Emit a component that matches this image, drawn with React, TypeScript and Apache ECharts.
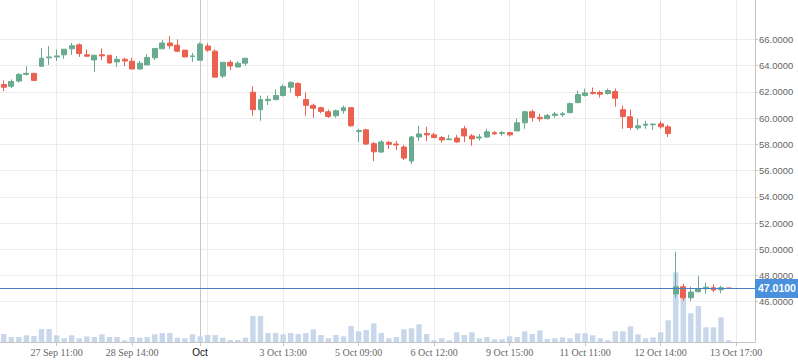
import React, { useEffect, useRef } from 'react';
import * as echarts from 'echarts';

// Hourly candles, slot index 0..96 (slots 97..99 are empty future slots)
const open = [
  62.56, 62.43, 62.82, 63.33, 63.41, 63.95, 64.59, 64.66, 64.82, 65.28,
  65.58, 64.82, 64.43, 64.82, 64.79, 64.28, 64.48, 64.33, 63.74, 64.05,
  64.59, 65.28, 65.72, 65.56, 65.18, 64.69, 64.41, 65.49, 65.10, 63.20,
  64.25, 63.89, 64.18, 61.97, 60.64, 61.33, 61.41, 61.72, 62.35, 62.64,
  61.41, 60.97, 60.79, 60.48, 60.18, 60.56, 60.79, 58.97, 59.10, 58.05,
  57.41, 58.15, 58.02, 57.79, 56.72, 58.56, 58.82, 58.72, 58.51, 58.35,
  58.48, 59.18, 58.64, 58.48, 58.56, 58.89, 58.82, 58.89, 59.02, 59.64,
  60.48, 60.05, 59.95, 60.20, 60.25, 60.41, 61.18, 61.72, 61.95, 61.95,
  61.87, 62.02, 60.64, 60.10, 59.25, 59.46, 59.49, 59.56, 59.33, 46.59,
  47.14, 46.30, 46.76, 46.99, 47.07, 46.91, 47.05,
];
const high = [
  62.87, 62.95, 63.43, 63.95, 63.41, 65.33, 65.49, 65.23, 65.25, 65.72,
  65.69, 65.23, 64.79, 65.31, 64.79, 64.72, 64.61, 64.61, 64.35, 64.85,
  65.31, 65.95, 66.25, 66.00, 65.18, 64.97, 65.77, 65.69, 65.25, 64.25,
  64.41, 64.33, 64.56, 62.41, 61.72, 61.72, 62.18, 62.56, 62.79, 62.72,
  61.95, 61.10, 60.87, 60.64, 60.64, 60.95, 60.79, 59.20, 59.18, 58.18,
  58.33, 58.25, 58.25, 57.95, 58.64, 59.41, 59.33, 58.87, 58.64, 58.72,
  58.72, 59.41, 58.79, 58.79, 59.18, 59.02, 59.02, 58.95, 59.95, 60.56,
  60.64, 60.33, 60.33, 60.48, 60.48, 61.18, 62.10, 62.25, 62.33, 62.10,
  62.25, 62.25, 60.95, 60.64, 59.95, 59.79, 59.61, 59.79, 59.49, 49.81,
  47.35, 47.14, 47.96, 47.45, 47.33, 47.22, 47.06,
];
const low = [
  62.05, 62.28, 62.72, 63.25, 62.82, 63.89, 64.05, 64.35, 64.51, 64.82,
  64.66, 64.66, 63.51, 64.41, 64.15, 63.89, 63.95, 63.74, 63.69, 64.05,
  64.41, 65.28, 65.28, 65.02, 64.66, 64.28, 64.41, 65.05, 63.12, 63.05,
  63.66, 63.89, 63.97, 60.18, 59.79, 61.00, 61.33, 61.64, 61.95, 61.56,
  60.18, 60.02, 60.36, 60.02, 60.02, 60.33, 59.33, 58.18, 57.95, 56.72,
  57.33, 57.64, 57.56, 56.79, 56.48, 58.25, 58.25, 58.48, 58.12, 58.33,
  58.12, 58.18, 57.89, 58.28, 58.48, 58.72, 58.64, 58.59, 59.02, 59.18,
  59.74, 59.74, 59.90, 60.02, 60.10, 60.36, 61.12, 61.64, 61.79, 61.56,
  61.79, 60.87, 59.18, 59.10, 59.10, 59.18, 59.10, 59.18, 58.56, 46.30,
  46.07, 46.05, 46.72, 46.61, 46.72, 46.64, 47.00,
];
const close = [
  62.35, 62.79, 63.33, 63.41, 62.87, 64.56, 64.66, 64.74, 65.25, 65.51,
  64.92, 64.72, 64.79, 64.74, 64.20, 64.48, 64.35, 63.74, 64.18, 64.61,
  65.31, 65.72, 65.51, 65.10, 64.66, 64.74, 65.64, 65.18, 63.12, 64.25,
  63.97, 64.18, 64.56, 60.64, 61.41, 61.43, 61.72, 62.41, 62.72, 61.72,
  60.97, 60.74, 60.51, 60.12, 60.56, 60.79, 59.41, 59.05, 58.02, 57.43,
  58.18, 58.00, 57.95, 56.95, 58.56, 58.79, 58.72, 58.51, 58.33, 58.41,
  58.18, 58.64, 58.41, 58.56, 58.95, 58.79, 58.89, 58.72, 59.64, 60.48,
  60.05, 59.95, 60.20, 60.31, 60.33, 61.10, 61.79, 61.92, 61.87, 61.82,
  62.10, 61.51, 60.12, 59.28, 59.41, 59.54, 59.54, 59.33, 58.82, 47.14,
  46.30, 46.74, 46.99, 47.10, 46.89, 47.07, 47.01,
];
const volume = [
  800, 500, 500, 670, 600, 1300, 1300, 670, 370, 670,
  370, 570, 500, 770, 500, 500, 170, 500, 430, 500,
  770, 900, 900, 430, 370, 770, 570, 700, 700, 430,
  200, 200, 430, 2600, 2600, 900, 900, 770, 900, 800,
  900, 1270, 700, 370, 700, 570, 1600, 1070, 1200, 1870,
  900, 370, 500, 1270, 1370, 1770, 800, 170, 370, 170,
  970, 700, 970, 370, 500, 270, 270, 570, 500, 1070,
  800, 1170, 300, 370, 470, 370, 870, 870, 670, 370,
  170, 1070, 1070, 1570, 770, 370, 470, 970, 2170, 6970,
  5200, 2870, 3600, 1470, 1470, 2470, 170,
];

const slotCount = 100;
const tickLabels: [number, string][] = [
  [7, '27 Sep 11:00'],
  [17, '28 Sep 14:00'],
  [26, 'Oct'],
  [37, '3 Oct 13:00'],
  [47, '5 Oct 09:00'],
  [57, '6 Oct 12:00'],
  [67, '9 Oct 15:00'],
  [77, '11 Oct 11:00'],
  [87, '12 Oct 14:00'],
  [97, '13 Oct 17:00'],
];
const gridSlots = [7, 17, 27, 37, 47, 57, 67, 77, 87, 97];
const monthSlot = 26;
const priceTicks = [46, 48, 50, 52, 54, 56, 58, 60, 62, 64, 66];
const priceMin = 42.93;
const priceMax = 69.0;
const volumeMax = 34200;
const lastPrice = 47.01;

const UP = '#68ab8f';
const DOWN = '#ec6050';

export default function App() {
  const ref = useRef<HTMLDivElement>(null);
  useEffect(() => {
    const chart = echarts.init(ref.current!, null, { renderer: 'svg' });
    const labelMap = new Map<number, string>(tickLabels);
    const categories = Array.from({ length: slotCount }, (_, i) => String(i));
    const candles = open.map((o, i) => [o, close[i], low[i], high[i]]);
    chart.setOption({
      animation: false,
      backgroundColor: '#ffffff',
      grid: { left: 0, right: 43, top: 0, bottom: 21, containLabel: false, outerBoundsMode: 'none' },
      xAxis: {
        type: 'category',
        data: categories,
        boundaryGap: true,
        axisLine: { show: true, lineStyle: { color: '#c4c4c4' } },
        axisTick: {
          show: true,
          alignWithLabel: true,
          length: 4,
          interval: (i: number) => labelMap.has(i),
          lineStyle: { color: '#c4c4c4' },
        },
        axisLabel: {
          interval: (i: number) => labelMap.has(i),
          formatter: (_v: string, i: number) =>
            i === monthSlot ? '{m|' + labelMap.get(i) + '}' : labelMap.get(i) || '',
          color: '#666',
          fontFamily: 'Liberation Serif',
          fontSize: 10,
          margin: 5,
          rich: { m: { color: '#111', fontFamily: 'Liberation Sans', fontSize: 10 } },
        },
        splitLine: { show: false },
      },
      yAxis: [
        {
          type: 'value',
          position: 'right',
          min: priceMin,
          max: priceMax,
          axisLine: { show: true, lineStyle: { color: '#c4c4c4' } },
          axisTick: { show: true, length: 3, customValues: priceTicks, lineStyle: { color: '#c4c4c4' } },
          axisLabel: {
            customValues: priceTicks,
            formatter: (v: number) => v.toFixed(4),
            color: '#666',
            fontFamily: 'Liberation Sans',
            fontSize: 9.5,
            margin: 4,
          },
          splitLine: { show: true, lineStyle: { color: '#ececec', width: 1 } },
        },
        {
          type: 'value',
          min: 0,
          max: volumeMax,
          show: false,
          splitLine: { show: false },
        },
      ],
      series: [
        {
          type: 'bar',
          name: 'Volume',
          xAxisIndex: 0,
          yAxisIndex: 1,
          data: volume,
          barWidth: '72%',
          itemStyle: { color: '#c9d7eb' },
          silent: true,
          z: 1,
          markLine: {
            silent: true,
            z: 0,
            symbol: ['none', 'none'],
            label: { show: false },
            lineStyle: { color: '#ececec', type: 'solid', width: 1 },
            data: [
              ...gridSlots.map((i) => ({ xAxis: i })),
              { xAxis: monthSlot, lineStyle: { color: '#c6c6c6', type: 'solid', width: 1 } },
            ],
          },
        },
        {
          type: 'candlestick',
          name: 'Price',
          xAxisIndex: 0,
          yAxisIndex: 0,
          data: candles,
          barWidth: '72%',
          silent: true,
          z: 3,
          itemStyle: {
            color: UP,
            color0: DOWN,
            borderColor: UP,
            borderColor0: DOWN,
            borderWidth: 1,
          },
          markLine: {
            silent: true,
            symbol: ['none', 'none'],
            lineStyle: { color: '#4a7fc1', type: 'solid', width: 1 },
            label: {
              show: true,
              position: 'end',
              distance: 0,
              formatter: (p: any) => Number(p.value).toFixed(4),
              color: '#ffffff',
              backgroundColor: '#4a90dc',
              padding: [4, 3, 4, 3],
              fontFamily: 'Liberation Sans',
              fontSize: 10.5,
              fontWeight: 'bold',
            },
            data: [{ yAxis: lastPrice }],
          },
        },
      ],
    });
    return () => chart.dispose();
  }, []);
  return (
    <div
      ref={ref}
      style={{ position: 'fixed', left: 0, top: 0, width: 798, height: 363, background: '#fff' }}
    />
  );
}
